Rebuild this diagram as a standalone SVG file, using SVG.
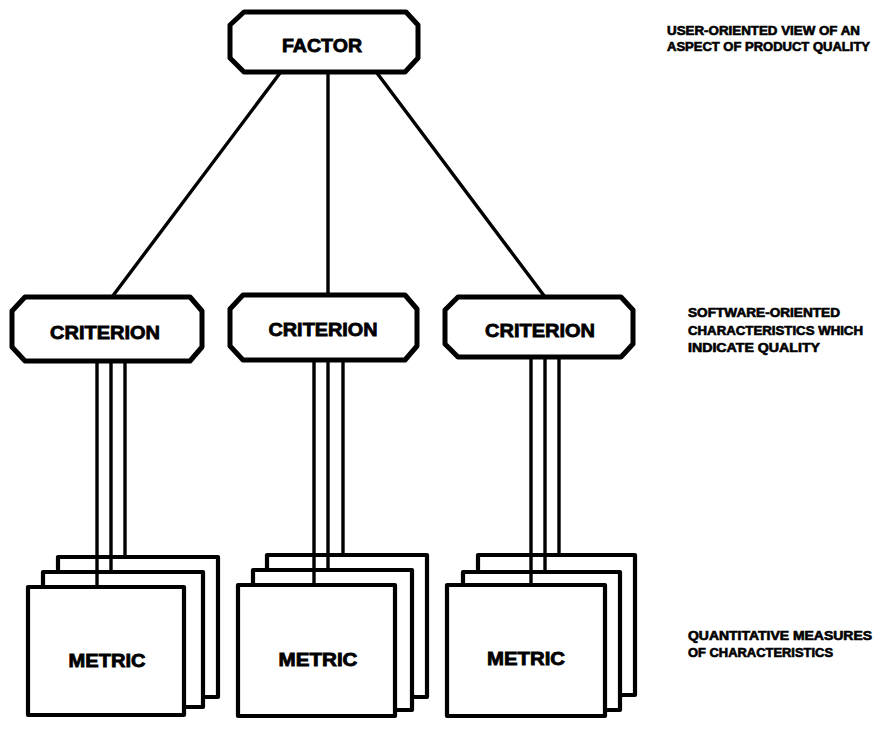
<svg xmlns="http://www.w3.org/2000/svg" width="878" height="729" viewBox="0 0 878 729">
  <style>
    .box { fill: #ffffff; stroke: #000000; stroke-width: 5; stroke-linejoin: round; }
    .sheet { fill: #ffffff; stroke: #000000; stroke-width: 4.2; stroke-linejoin: round; }
    .link { fill: none; stroke: #000000; stroke-width: 3.4; stroke-linecap: butt; }
    .lbl { font-family: "Liberation Sans", Arial, sans-serif; font-weight: bold; fill: #000000; stroke: #000000; stroke-width: 0.8; text-anchor: middle; }
    .note { font-family: "Liberation Sans", Arial, sans-serif; font-weight: bold; font-size: 12px; fill: #000000; stroke: #000000; stroke-width: 0.6; }
  </style>
  <rect width="878" height="729" fill="#ffffff"/>

  <!-- top-level factor -->
  <g id="factor">
    <path class="box" d="M244,12 H406 L418,25 V58 L405,72 H244 L230,58 V25 Z"/>
    <text class="lbl" x="322" y="52" font-size="19" textLength="80" lengthAdjust="spacingAndGlyphs">FACTOR</text>
  </g>

  <!-- criteria -->
  <g id="criterion-1">
    <path class="box" d="M25,297 H190 L202,311 V347 L190,361 H25 L12,347 V311 Z"/>
    <text class="lbl" x="105" y="339" font-size="19" textLength="110" lengthAdjust="spacingAndGlyphs">CRITERION</text>
  </g>
  <g id="criterion-2">
    <path class="box" d="M243,295 H405 L417,309 V346 L405,360 H243 L230,346 V309 Z"/>
    <text class="lbl" x="323" y="336" font-size="19" textLength="109" lengthAdjust="spacingAndGlyphs">CRITERION</text>
  </g>
  <g id="criterion-3">
    <path class="box" d="M458,297 H621 L633,310 V344 L621,357 H458 L445,344 V310 Z"/>
    <text class="lbl" x="540" y="337" font-size="19" textLength="110" lengthAdjust="spacingAndGlyphs">CRITERION</text>
  </g>

  <!-- metric stacks: back, middle, front sheets -->
  <g id="metric-1">
    <rect class="sheet" x="58" y="557" width="160" height="140"/>
    <rect class="sheet" x="43" y="572" width="160" height="135"/>
    <rect class="sheet" x="28" y="587" width="156" height="128"/>
    <text class="lbl" x="107" y="667" font-size="18" textLength="77" lengthAdjust="spacingAndGlyphs">METRIC</text>
  </g>
  <g id="metric-2">
    <rect class="sheet" x="267" y="555" width="160" height="142"/>
    <rect class="sheet" x="253" y="570" width="159" height="140"/>
    <rect class="sheet" x="238" y="585" width="157" height="131"/>
    <text class="lbl" x="318" y="666" font-size="18" textLength="79" lengthAdjust="spacingAndGlyphs">METRIC</text>
  </g>
  <g id="metric-3">
    <rect class="sheet" x="478" y="555" width="157" height="140"/>
    <rect class="sheet" x="463" y="572" width="157" height="138"/>
    <rect class="sheet" x="447" y="585" width="158" height="131"/>
    <text class="lbl" x="526" y="665" font-size="18" textLength="78" lengthAdjust="spacingAndGlyphs">METRIC</text>
  </g>

  <!-- connectors -->
  <g id="connectors">
    <line class="link" x1="280" y1="73" x2="112" y2="297"/>
    <line class="link" x1="328" y1="73" x2="328" y2="295"/>
    <line class="link" x1="377" y1="73" x2="545" y2="297"/>

    <line class="link" x1="97" y1="361" x2="97" y2="587"/>
    <line class="link" x1="111" y1="361" x2="111" y2="572"/>
    <line class="link" x1="125" y1="361" x2="125" y2="557"/>

    <line class="link" x1="314" y1="360" x2="314" y2="585"/>
    <line class="link" x1="328" y1="360" x2="328" y2="570"/>
    <line class="link" x1="343" y1="360" x2="343" y2="555"/>

    <line class="link" x1="531" y1="357" x2="531" y2="585"/>
    <line class="link" x1="545" y1="357" x2="545" y2="572"/>
    <line class="link" x1="559" y1="357" x2="559" y2="555"/>
  </g>

  <!-- level descriptions -->
  <g id="notes">
    <text class="note" x="667" y="35" textLength="193" lengthAdjust="spacingAndGlyphs">USER-ORIENTED VIEW OF AN</text>
    <text class="note" x="667" y="51" textLength="203" lengthAdjust="spacingAndGlyphs">ASPECT OF PRODUCT QUALITY</text>

    <text class="note" x="688" y="317" textLength="152" lengthAdjust="spacingAndGlyphs">SOFTWARE-ORIENTED</text>
    <text class="note" x="688" y="335" textLength="175" lengthAdjust="spacingAndGlyphs">CHARACTERISTICS WHICH</text>
    <text class="note" x="688" y="352" textLength="132" lengthAdjust="spacingAndGlyphs">INDICATE QUALITY</text>

    <text class="note" x="688" y="640" textLength="184" lengthAdjust="spacingAndGlyphs">QUANTITATIVE MEASURES</text>
    <text class="note" x="688" y="657" textLength="145" lengthAdjust="spacingAndGlyphs">OF CHARACTERISTICS</text>
  </g>
</svg>
